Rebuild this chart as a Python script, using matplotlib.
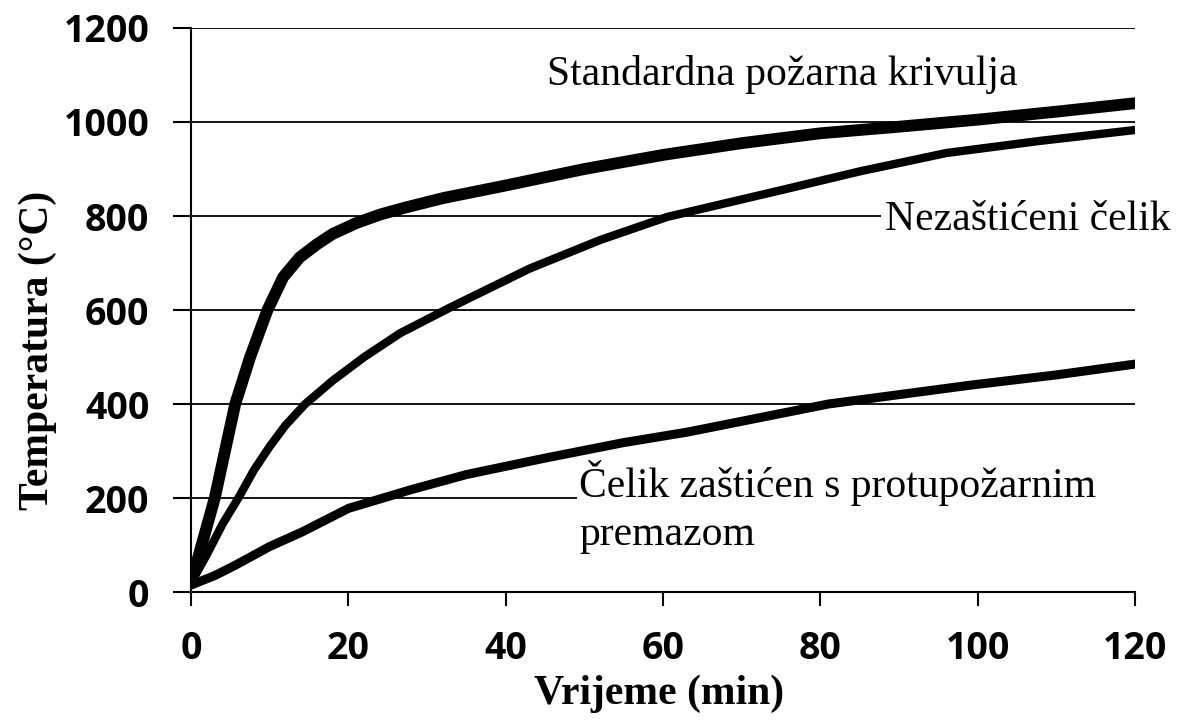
import matplotlib
matplotlib.use('Agg')
import matplotlib.pyplot as plt

# vrijeme (min) i temperature (°C) ocitane sa slike
t_std = [0, 1.5, 3, 4.3, 5.6, 7.5, 9.7, 11.7, 13.8, 16, 18, 21, 24, 27, 32, 40, 50, 60, 70, 80, 90, 100, 110, 120]
T_std = [20, 110, 200, 300, 400, 500, 600, 670, 712, 740, 762, 785, 803, 817, 838, 865, 900, 930, 955, 976, 990, 1005, 1022, 1040]

t_nez = [0, 2, 4, 6, 8, 10, 12, 14.5, 18, 22, 26.6, 33, 43, 52, 60.5, 75, 85, 96, 108, 120]
T_nez = [20, 80, 145, 200, 260, 310, 355, 400, 450, 500, 551, 606, 688, 749, 798, 855, 895, 934, 960, 983]

t_zas = [0, 3, 5.6, 10, 14, 20, 28, 35, 45, 55, 63, 72, 81, 90, 99, 110, 120]
T_zas = [15, 35, 57, 97, 127, 178, 218, 250, 285, 318, 340, 370, 400, 420, 440, 462, 485]

xticks = [0, 20, 40, 60, 80, 100, 120]
yticks = [0, 200, 400, 600, 800, 1000, 1200]

# gdje mreza zavrsava (natpisi je prekrivaju)
grid_end = {200: 49, 400: 120, 600: 120, 800: 87.7, 1000: 120, 1200: 120}

fig = plt.figure(figsize=(11.8, 7.25), dpi=100)
ax = fig.add_axes([0.162, 0.1834, 0.8, 0.778])

for y in yticks[1:]:
    ax.hlines(y, 0, grid_end[y], color='black', lw=1.3, zorder=1)

ax.plot(t_std, T_std, color='black', lw=8.5, solid_capstyle='round', solid_joinstyle='round', zorder=3)
ax.plot(t_nez, T_nez, color='black', lw=6, solid_capstyle='round', solid_joinstyle='round', zorder=3)
ax.plot(t_zas, T_zas, color='black', lw=6.5, solid_capstyle='round', solid_joinstyle='round', zorder=3)

ax.set_xlim(0, 120)
ax.set_ylim(0, 1200)
ax.set_xticks(xticks)
ax.set_yticks(yticks)
for s in ['top', 'right']:
    ax.spines[s].set_visible(False)
ax.spines['left'].set_linewidth(1.5)
ax.spines['bottom'].set_linewidth(1.5)
ax.tick_params(axis='x', length=10, width=1.5, pad=17)
ax.tick_params(axis='y', length=13, width=1.5, pad=17)
for lab in ax.get_xticklabels() + ax.get_yticklabels():
    lab.set_fontfamily('Open Sans')
    lab.set_fontweight('bold')
    lab.set_fontsize(27)

ax.set_xlabel('Vrijeme (min)', fontfamily='Liberation Serif', fontweight='bold', fontsize=30)
ax.set_ylabel('Temperatura (°C)', fontfamily='Liberation Serif', fontweight='bold', fontsize=30)
ax.xaxis.set_label_coords(0.496, -0.147)
ax.yaxis.set_label_coords(-0.142, 0.429)

txt = dict(fontfamily='Liberation Serif', fontsize=30, color='black', zorder=4)
ax.text(45.2, 1079, 'Standardna požarna krivulja', ha='left', va='baseline', **txt)
ax.text(88.2, 770, 'Nezaštićeni čelik', ha='left', va='baseline', **txt)
ax.text(49.3, 202, 'Čelik zaštićen s protupožarnim', ha='left', va='baseline', **txt)
ax.text(49.3, 100, 'premazom', ha='left', va='baseline', **txt)

fig.savefig('out.png', dpi=100)
